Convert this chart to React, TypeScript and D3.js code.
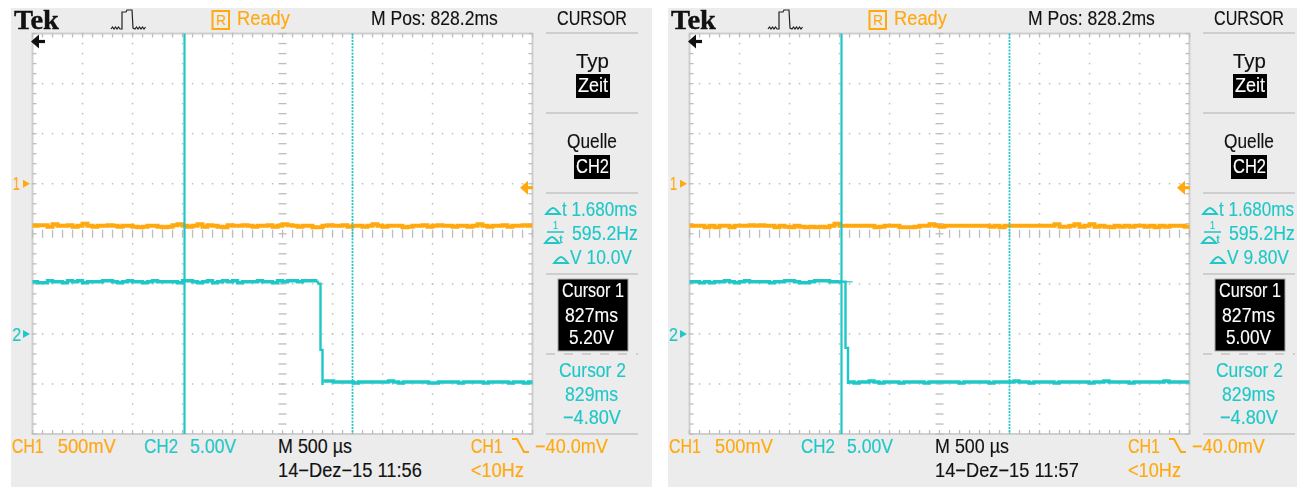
import React from "react";
import * as d3 from "d3";

// ---------- data ----------
const timeDomainMs = [825.7, 830.7];
const divDomain = [-4, 4];
const ch1VoltsPerDiv = 0.5;
const ch2VoltsPerDiv = 5;
const ch1GroundDiv = 1;
const ch2GroundDiv = -2;
const triggerVolts = -0.04;
const cursor1Ms = 827.22;
const cursor2Ms = 828.9;
const sampleStepMs = 0.05;

const ch1LeftVolts = [
  -0.42,-0.415,-0.415,-0.43,-0.405,-0.42,-0.42,-0.415,-0.43,-0.42,-0.4,-0.42,-0.43,-0.42,-0.42,-0.415,-0.42,-0.43,-0.42,-0.42,
  -0.43,-0.435,-0.43,-0.42,-0.42,-0.43,-0.435,-0.43,-0.415,-0.405,-0.42,-0.43,-0.42,-0.405,-0.43,-0.415,-0.42,-0.43,-0.435,-0.415,
  -0.42,-0.42,-0.415,-0.42,-0.43,-0.42,-0.42,-0.415,-0.43,-0.42,-0.405,-0.415,-0.42,-0.43,-0.42,-0.42,-0.435,-0.435,-0.42,-0.415,
  -0.42,-0.42,-0.415,-0.43,-0.42,-0.42,-0.43,-0.42,-0.405,-0.42,-0.43,-0.42,-0.42,-0.42,-0.435,-0.43,-0.42,-0.42,-0.415,-0.43,
  -0.42,-0.415,-0.42,-0.42,-0.43,-0.42,-0.42,-0.43,-0.42,-0.405,-0.42,-0.43,-0.42,-0.42,-0.415,-0.43,-0.42,-0.42,-0.415,-0.42,
];
const ch1RightVolts = [
  -0.42,-0.42,-0.42,-0.435,-0.42,-0.435,-0.42,-0.42,-0.435,-0.42,-0.42,-0.42,-0.415,-0.42,-0.415,-0.42,-0.42,-0.435,-0.42,-0.43,
  -0.435,-0.42,-0.43,-0.435,-0.43,-0.435,-0.43,-0.435,-0.42,-0.4,-0.42,-0.42,-0.42,-0.42,-0.42,-0.42,-0.42,-0.435,-0.43,-0.42,
  -0.42,-0.42,-0.435,-0.435,-0.435,-0.43,-0.42,-0.42,-0.405,-0.42,-0.43,-0.42,-0.42,-0.42,-0.42,-0.42,-0.42,-0.42,-0.42,-0.42,
  -0.43,-0.42,-0.435,-0.42,-0.42,-0.42,-0.42,-0.42,-0.42,-0.42,-0.42,-0.42,-0.42,-0.405,-0.43,-0.43,-0.42,-0.405,-0.43,-0.42,
  -0.405,-0.43,-0.42,-0.43,-0.435,-0.42,-0.43,-0.42,-0.43,-0.42,-0.42,-0.43,-0.42,-0.435,-0.42,-0.43,-0.42,-0.42,-0.42,-0.43,
];

const ch2LeftPreVolts = [
  5.2,5.1,5.1,5.3,5.2,5.2,5.1,5.3,5.2,5.3,5.1,5.2,5.2,5.2,5.3,5.3,5.2,5.1,5.2,5.3,
  5.2,5.2,5.1,5.2,5.3,5.2,5.2,5.2,5.2,5.1,5.3,5.3,5.2,5.1,5.2,5.3,5.1,5.2,5.3,5.2,
  5.3,5.1,5.2,5.2,5.2,5.3,5.2,5.2,5.1,5.3,5.2,5.3,5.3,5.2,5.3,5.3,5.3,5.3,
];
const ch2LeftFallMs = [828.56, 828.58, 828.58, 828.6, 828.6];
const ch2LeftFallVolts = [5.0, 5.0, -1.6, -1.6, -5.1];
const ch2LeftPostVolts = [
  -4.7,-4.7,-4.8,-4.8,-4.8,-4.8,-4.9,-4.8,-4.8,-4.8,-4.8,-4.8,-4.8,-4.7,-4.8,-4.9,-4.8,-4.8,-4.8,-4.8,
  -4.8,-4.9,-4.9,-4.8,-4.8,-4.8,-4.8,-4.9,-4.8,-4.8,-4.8,-4.8,-4.9,-4.8,-4.8,-4.8,-4.8,-4.9,-4.8,-4.8,-4.9,-4.8,
];
const ch2RightPreVolts = [
  5.2,5.2,5.1,5.2,5.1,5.2,5.2,5.3,5.2,5.1,5.2,5.3,5.2,5.2,5.2,5.2,5.1,5.2,5.2,5.3,
  5.3,5.2,5.1,5.1,5.2,5.3,5.3,5.3,5.2,5.2,5.3,
];
const ch2RightFallMs = [827.24, 827.26, 827.26, 827.285, 827.285];
const ch2RightFallVolts = [5.2, 5.2, -1.4, -1.4, -5.0];
const ch2RightPostVolts = [
  -4.8,-4.9,-4.8,-4.8,-4.7,-4.8,-4.9,-4.8,-4.8,-4.8,-4.9,-4.8,-4.8,-4.8,-4.8,-4.9,-4.8,-4.8,-4.8,-4.8,
  -4.8,-4.8,-4.9,-4.8,-4.8,-4.8,-4.8,-4.8,-4.9,-4.8,-4.8,-4.8,-4.8,-4.7,-4.8,-4.8,-4.9,-4.8,-4.8,-4.8,
  -4.8,-4.9,-4.8,-4.8,-4.8,-4.8,-4.8,-4.8,-4.9,-4.8,-4.8,-4.7,-4.8,-4.8,-4.8,-4.8,-4.9,-4.8,-4.8,-4.8,-4.8,-4.8,-4.8,-4.7,-4.8,-4.8,-4.8,-4.8,
];
const ch2RightRingMs = [827.22, 827.33];
const ch2RightRingVolts = [5.2, 5.2];

const leftDeltaV = "10.0V";
const rightDeltaV = "9.80V";
const leftCursor1V = "5.20V";
const rightCursor1V = "5.00V";
const leftTime = "14\u2212Dez\u221215 11:56";
const rightTime = "14\u2212Dez\u221215 11:57";
const cursor1TimeLabel = "827ms";
const cursor2TimeLabel = "829ms";
const cursor2VoltLabel = "\u22124.80V";

// ---------- style ----------
const ORANGE = "#ffa90f";
const TEAL = "#1fc7c7";
const GRID = "#bdbdbd";
const EDGE = "#cfcfcf";
const BG = "#ececec";
const FONT = "'Liberation Sans','DejaVu Sans',sans-serif";
const SERIF = "'Liberation Serif',serif";

const x = d3.scaleLinear().domain(timeDomainMs).range([32.5, 532.5]);
const y = d3.scaleLinear().domain(divDomain).range([434, 33.5]);
const ch1Y = (v: number) => y(v / ch1VoltsPerDiv + ch1GroundDiv);
const ch2Y = (v: number) => y(v / ch2VoltsPerDiv + ch2GroundDiv);

const stepLine = d3.line<[number, number]>().x((d) => d[0]).y((d) => d[1]).curve(d3.curveStepAfter);
const plainLine = d3.line<[number, number]>().x((d) => d[0]).y((d) => d[1]);

const samples = (values: number[], startMs: number, yFn: (v: number) => number) => {
  const pts = values.map((v, i) => [x(startMs + i * sampleStepMs), yFn(v)] as [number, number]);
  return pts;
};
const toEnd = (pts: [number, number][]) =>
  [...pts, [x(timeDomainMs[1]), pts[pts.length - 1][1]] as [number, number]];

const measureCtx = document.createElement("canvas").getContext("2d") as CanvasRenderingContext2D;
function squeeze(t: string, font: string, w: number) {
  measureCtx.font = font;
  return w / measureCtx.measureText(t).width;
}

function Label({ t, lx, by, w, c = "#111", size = 20 }: any) {
  const sx = squeeze(t, `${size}px ${FONT}`, w);
  return (
    <text transform={`translate(${lx},${by}) scale(${sx},1)`} fill={c} fontSize={size} fontFamily={FONT}
      stroke={c} strokeWidth={0.15}>{t}</text>
  );
}

function Tri({ cx, by, c }: { cx: number; by: number; c: string }) {
  return <path d={`M${cx - 7},${by} L${cx + 7},${by} Q${cx + 2},${by - 6} ${cx},${by - 6} Q${cx - 2},${by - 6} ${cx - 7},${by} Z`}
    fill="none" stroke={c} strokeWidth={1.8} />;
}

function Arrow({ x0, x1, yy, c }: { x0: number; x1: number; yy: number; c: string }) {
  return (
    <g fill={c} stroke="none">
      <rect x={x0 + 4} y={yy - 1.6} width={x1 - x0 - 4} height={3.2} />
      <path d={`M${x0},${yy} L${x0 + 8},${yy - 7} L${x0 + 8},${yy + 7} Z`} />
    </g>
  );
}

function Graticule() {
  const d0 = timeDomainMs[0];
  const xs = d3.range(0, 51).map((i) => d0 + i * 0.1);
  const minorY = d3.range(0, 41).map((i) => -4 + i * 0.2);
  const vDivs = d3.range(1, 10).filter((i) => i !== 5).map((i) => d0 + i * 0.5);
  const hDivs = [-3, -2, -1, 1, 2, 3];
  const midX = x(d0 + 2.5);
  const midY = y(0);
  return (
    <g>
      <rect x={x.range()[0]} y={y(4)} width={500} height={400.5} fill="#fff" stroke={EDGE} strokeWidth={2} />
      {xs.map((t, i) => (
        <g key={i} fill={GRID}>
          <rect x={x(t) - 0.6} y={y(4)} width={1.3} height={4} />
          <rect x={x(t) - 0.6} y={y(-4) - 4} width={1.3} height={4} />
          <rect x={x(t) - 0.6} y={midY - 4} width={1.3} height={8} />
          {hDivs.map((d) => <rect key={d} x={x(t) - 0.7} y={y(d) - 0.7} width={1.5} height={1.5} />)}
        </g>
      ))}
      {minorY.map((d, i) => (
        <g key={i} fill={GRID}>
          <rect x={x.range()[0]} y={y(d) - 0.6} width={4} height={1.3} />
          <rect x={x.range()[1] - 4} y={y(d) - 0.6} width={4} height={1.3} />
          <rect x={midX - 4} y={y(d) - 0.6} width={8} height={1.3} />
          {vDivs.map((t) => <rect key={t} x={x(t) - 0.7} y={y(d) - 0.7} width={1.5} height={1.5} />)}
        </g>
      ))}
    </g>
  );
}

function Scope(props: {
  dx: number; ch1: number[]; pre: number[]; fallMs: number[]; fallV: number[]; post: number[];
  ringMs?: number[]; ringV?: number[]; dV: string; c1V: string; time: string;
}) {
  const { dx, ch1, pre, fallMs, fallV, post, ringMs, ringV, dV, c1V, time } = props;
  const ch1Pts = toEnd(samples(ch1, timeDomainMs[0], ch1Y));
  const prePts = samples(pre, timeDomainMs[0], ch2Y);
  const fallPts = fallMs.map((t, i) => [x(t), ch2Y(fallV[i])] as [number, number]);
  const postPts = toEnd(samples(post, fallMs[fallMs.length - 1] + 0.01, ch2Y));
  const sepX = [546, 638];
  const tekScale = squeeze("Tek", `bold 28px ${SERIF}`, 45);
  return (
    <g transform={`translate(${dx},0)`}>
      <rect x={11} y={8} width={641} height={480} fill={BG} />
      <Graticule />
      {/* traces */}
      <path d={stepLine(ch1Pts) as string} fill="none" stroke={ORANGE} strokeWidth={4} />
      <path d={stepLine(prePts) as string} fill="none" stroke={TEAL} strokeWidth={3.4} />
      <path d={plainLine([prePts[prePts.length - 1], ...fallPts]) as string} fill="none" stroke={TEAL} strokeWidth={2.4} />
      <path d={stepLine(postPts) as string} fill="none" stroke={TEAL} strokeWidth={3.4} />
      {ringMs && ringV && (
        <path d={plainLine(ringMs.map((t, i) => [x(t), ch2Y(ringV[i])] as [number, number])) as string}
          fill="none" stroke={TEAL} strokeWidth={1.2} />
      )}
      {/* cursors */}
      <line x1={x(cursor1Ms)} x2={x(cursor1Ms)} y1={y(4)} y2={y(-4)} stroke={TEAL} strokeWidth={2.2} />
      <line x1={x(cursor2Ms)} x2={x(cursor2Ms)} y1={y(4)} y2={y(-4)} stroke={TEAL} strokeWidth={1.8} strokeDasharray="2 1.2" />
      {/* markers */}
      <Arrow x0={31} x1={45} yy={41.5} c="#111" />
      <Arrow x0={520} x1={533} yy={ch1Y(triggerVolts)} c={ORANGE} />
      <Label t="1" lx={13} by={190} w={7} c={ORANGE} size={18} />
      <path d={`M23,${ch1Y(0) - 4} L30,${ch1Y(0)} L23,${ch1Y(0) + 4} Z`} fill={ORANGE} />
      <Label t="2" lx={12} by={341} w={9} c={TEAL} size={18} />
      <path d={`M23,${ch2Y(0) - 4} L30,${ch2Y(0)} L23,${ch2Y(0) + 4} Z`} fill={TEAL} />
      {/* top bar */}
      <text transform={`translate(14,29) scale(${tekScale},1)`} fontFamily={SERIF} fontWeight={700} fontSize={28} fill="#111"
        stroke="#111" strokeWidth={0.4}>Tek</text>
      <path d="M111,29 l1.5,-2 l1.5,2 l1.5,-2 l1.5,2 l1.5,-2 l1.5,2 l2,0 L122,12 L126,12 L127,10 L132,10 L133,28 L135,29 l1.5,-2 l1.5,2 l1.5,-2 l1.5,2 l1.5,-2 l1.5,2 l1.5,-2"
        fill="none" stroke="#222" strokeWidth={1.2} />
      <rect x={212.5} y={11} width={16.5} height={18} fill="none" stroke={ORANGE} strokeWidth={2} />
      <Label t="R" lx={216} by={25} w={10} c={ORANGE} size={15} />
      <Label t="Ready" lx={237} by={25} w={53} c={ORANGE} size={21} />
      <Label t="M Pos: 828.2ms" lx={371} by={25} w={127} />
      <Label t="CURSOR" lx={557} by={25} w={70} />
      {[33, 113, 193, 274, 434].map((yy) => (
        <line key={yy} x1={sepX[0]} x2={sepX[1]} y1={yy} y2={yy} stroke="#c4c4c4" strokeWidth={1.6} />
      ))}
      <line x1={sepX[0]} x2={sepX[1]} y1={354} y2={354} stroke="#c4c4c4" strokeWidth={1.6} strokeDasharray="9 9" />
      {/* right menu */}
      <Label t="Typ" lx={576} by={68} w={33} size={21} />
      <rect x={576} y={74} width={34} height={24} fill="#000" />
      <Label t="Zeit" lx={578} by={92} w={30} c="#fff" />
      <Label t="Quelle" lx={567} by={148} w={50} size={21} />
      <rect x={574} y={155} width={36} height={24} fill="#000" />
      <Label t="CH2" lx={576} by={173} w={33} c="#fff" />
      <Tri cx={553} by={214} c={TEAL} />
      <Label t="t 1.680ms" lx={562} by={216} w={75} c={TEAL} />
      <Label t="1" lx={553} by={229} w={5} c={TEAL} size={11} />
      <line x1={547} x2={564} y1={232} y2={232} stroke={TEAL} strokeWidth={1.5} />
      <Tri cx={552} by={243} c={TEAL} />
      <Label t="t" lx={559} by={243} w={4} c={TEAL} size={11} />
      <Label t="595.2Hz" lx={572} by={240} w={66} c={TEAL} />
      <Tri cx={561} by={263} c={TEAL} />
      <Label t={`V ${dV}`} lx={570} by={264} w={62} c={TEAL} />
      <rect x={558} y={279} width={70} height={72} fill="#000" stroke="#aaa" strokeWidth={1} />
      <Label t="Cursor 1" lx={562} by={297} w={62} c="#fff" />
      <Label t={cursor1TimeLabel} lx={565} by={322} w={53} c="#fff" />
      <Label t={c1V} lx={569} by={344} w={45} c="#fff" />
      <Label t="Cursor 2" lx={559} by={377} w={67} c={TEAL} />
      <Label t={cursor2TimeLabel} lx={565} by={401} w={53} c={TEAL} />
      <Label t={cursor2VoltLabel} lx={563} by={424} w={58} c={TEAL} />
      {/* bottom */}
      <Label t="CH1" lx={12} by={453} w={32} c={ORANGE} />
      <Label t="500mV" lx={58} by={453} w={58} c={ORANGE} />
      <Label t="CH2" lx={144} by={453} w={34} c={TEAL} />
      <Label t="5.00V" lx={190} by={453} w={46} c={TEAL} />
      <Label t="M 500 µs" lx={278} by={453} w={74} />
      <Label t={time} lx={278} by={477} w={144} />
      <Label t="CH1" lx={471} by={453} w={32} c={ORANGE} />
      <path d="M512,439 L517,439 L524,452 L529,452" fill="none" stroke={ORANGE} strokeWidth={2} />
      <Label t={"\u221240.0mV"} lx={535} by={453} w={73} c={ORANGE} />
      <Label t="<10Hz" lx={471} by={477} w={53} c={ORANGE} />
    </g>
  );
}

export default function App() {
  return (
    <svg width={1297} height={487} viewBox="0 0 1297 487"
      style={{ position: "absolute", left: 0, top: 0, background: "#fff" }}>
      <g style={{ filter: "blur(0.5px)" }}>
        <Scope dx={0} ch1={ch1LeftVolts} pre={ch2LeftPreVolts} fallMs={ch2LeftFallMs} fallV={ch2LeftFallVolts}
          post={ch2LeftPostVolts} dV={leftDeltaV} c1V={leftCursor1V} time={leftTime} />
        <Scope dx={657} ch1={ch1RightVolts} pre={ch2RightPreVolts} fallMs={ch2RightFallMs} fallV={ch2RightFallVolts}
          post={ch2RightPostVolts} ringMs={ch2RightRingMs} ringV={ch2RightRingVolts}
          dV={rightDeltaV} c1V={rightCursor1V} time={rightTime} />
      </g>
    </svg>
  );
}
